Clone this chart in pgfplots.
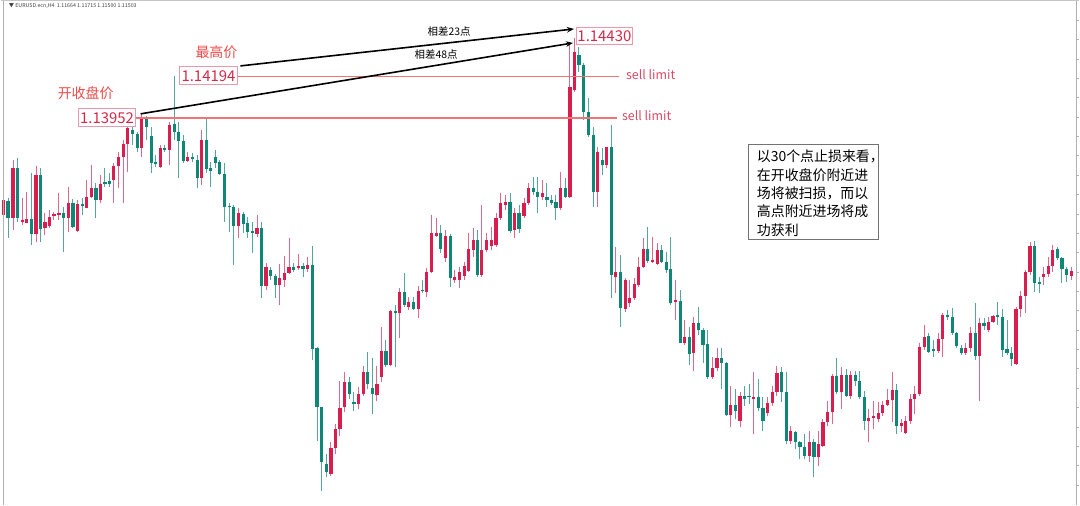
\documentclass[border=0pt]{standalone}
\usepackage{pgfplots}
\pgfplotsset{compat=1.18}
\usepackage{pgfplotstable}
\usepackage{fontspec}
\setmainfont{Noto Sans CJK SC}
\usetikzlibrary{arrows.meta}
\definecolor{up}{HTML}{D91E4F}
\definecolor{dn}{HTML}{0E8678}
\definecolor{upw}{HTML}{E0688A}
\definecolor{dnw}{HTML}{52A89D}
\definecolor{lim}{HTML}{F07474}
\definecolor{lab}{HTML}{D42A4A}
\definecolor{labbox}{HTML}{E89AAA}
\definecolor{cn}{HTML}{F04A4A}
% candles in screen pixels: x, open, high, low, close (y grows downwards)
\pgfplotstableread{
x o h l c
2.7 215 180 227 200
7.3 201 198 238 218
12.3 218 160 230 168
16.7 168 158 222 218
21.7 222 198 225 220
26.0 223 192 223 219
30.7 219 173 245 234
35.3 234 166 242 175
39.7 175 168 242 229
44.3 228 213 235 222
49.0 226 210 228 217
53.3 216 212 220 214
58.3 215 193 220 213
62.7 213 207 252 218
67.7 218 187 232 203
72.3 203 199 228 227
77.0 231 200 232 204
81.7 204 198 215 206
86.0 208 180 208 197
90.7 197 165 198 188
95.3 188 183 218 200
99.7 200 175 203 184
104.3 182 168 187 184
108.7 181 173 187 184
113.3 180 163 203 166
118.0 166 152 188 157
122.7 157 140 203 144
127.3 144 110 172 128
132.0 130 127 145 134
136.7 134 132 152 148
141.3 148 114 157 118
146.0 118 116 140 127
150.7 136 127 173 163
155.3 162 155 167 164
160.0 167 145 168 148
164.3 148 145 152 150
169.0 150 122 165 125
173.7 124 76 140 132
178.3 132 122 178 141
183.0 141 135 163 161
187.3 161 152 162 157
192.0 157 153 162 159
196.7 160 155 188 178
201.0 178 130 185 140
205.7 140 118 173 169
210.3 168 162 187 171
215.0 157 150 168 163
219.3 162 160 175 174
224.0 174 163 222 207
228.7 206 203 232 207.5
233.3 207 205 265 226
238.0 226 208 238 213
242.7 214 212 233 224
247.3 223 217 238 232
252.0 231 222 253 233
256.7 234 215 237 228
261.0 228 222 298 286
265.7 286 263 290 267
270.3 270 267 280 276
275.0 276 274 298 285
279.3 285 264 305 278
284.0 280 256 287 273
288.7 273 238 274 267
293.3 267 263 272 270
298.0 268 254 270 266
302.7 266 263 277 269
307.3 269 257 272 265
312.0 265 246 360 349
316.7 348 347 442 408
321.3 408 408 492 463
326.0 465 455 478 473
330.7 475 443 477 449
335.0 449 425 455 430
339.7 430 382 437 409
344.3 408 373 413 383
349.0 383 378 400 395
353.7 403 393 412 405
358.3 405 388 410 395
363.0 395 367 397 373
367.3 373 352 390 385
372.0 389 358 415 395
376.7 396 367 402 385
381.0 378 327 383 351
385.7 351 340 368 365
390.3 365 310 367 311
395.0 311 305 368 313
399.3 313 288 338 292
404.0 292 273 307 305
408.7 307 297 310 302
413.3 302 297 310 309
418.3 309 286 318 291
422.5 290 280 293 291.5
426.7 292 268 297 272
431.7 272 215 273 233
436.0 236 218 237 233
440.7 233 225 253 249
445.7 258 230 262 236
450.0 236 234 287 278
454.5 280 270 283 277
459.3 280 267 288 272
464.0 276 262 280 266
468.3 271 233 272 249
473.3 250 228 257 240
477.3 240 230 277 275
481.7 275 205 277 250
486.7 250 233 252 240
491.7 246 227 250 240
496.0 245 213 247 218
500.7 218 193 220 203
505.3 205 195 210 202
510.0 202 193 233 231
514.7 230 208 238 213
519.0 213 205 233 229
524.0 216 198 218 203
528.7 203 183 205 188
533.3 188 177 195 192
537.7 192 177 213 197
542.3 197 180 200 193
547.0 197 183 207 200
551.7 200 195 205 203
556.0 202 195 220 208
560.7 208 172 210 188
565.3 188 178 198 197
570.0 197 45 198 87
574.3 90 38 92 52
579.0 55 47 72 65
583.3 65 63 120 112
588.3 112 98 137 135
593.3 135 127 207 192
597.7 192 147 207 152
602.3 160 148 175 165
606.7 165 147 168 147
611.7 147 125 298 275
616.0 277 247 293 272
620.7 272 255 327 308
625.3 309 278 312 280
629.3 303 280 307 298
634.3 298 278 300 284
639.0 285 257 287 267
643.3 267 238 268 249
648.0 249 227 263 261
652.7 262 237 263 260
657.3 264 243 265 250
662.0 250 245 263 262
666.7 262 252 273 270
671.0 269 237 305 303
675.7 302 280 320 300.5
680.3 301 290 343 343
685.0 343 320 345 337
689.7 337 327 365 354
694.0 353 317 372 323
698.7 323 307 335 330
703.3 330 328 363 345
708.0 344 330 380 378
712.7 378 357 380 369
717.3 369 348 372 358
722.0 358 348 390 363
726.7 363 362 417 416
731.0 416 387 428 406
735.7 406 390 420 412
740.3 422 393 428 397
745.0 397 387 407 400
749.3 397 385 405 398
754.0 400 373 435 398
758.7 398 380 412 409
763.3 409 398 432 422
768.0 414 398 417 404
772.7 404 387 407 393
777.3 393 367 397 374
782.0 373 368 403 393
786.7 393 373 445 442
791.0 442 427 445 432
795.7 433 432 450 443
800.3 443 442 460 448
805.0 448 435 460 457
809.7 457 432 463 443
814.3 443 440 478 458
819.0 458 432 467 445
823.3 447 420 448 423
828.0 423 402 427 413
832.7 413 375 425 377
837.3 377 358 395 393
842.0 393 368 410 376
846.7 376 370 398 397
851.3 397 372 400 376
855.7 376 372 387 382
860.3 382 372 400 398
865.0 398 392 431 422
869.3 422 410 443 419
874.0 419 402 430 417
878.7 420 403 423 414
883.3 414 402 417 406
888.0 406 390 407 401
892.7 401 373 423 391
897.3 391 385 435 427
901.7 427 420 433 424
906.0 434 417 435 422
910.7 422 395 425 400
915.3 400 387 415 395
920.0 395 343 397 347
924.7 347 325 350 337
929.3 336 333 353 352
934.0 349 340 357 351
938.7 351 333 353 339
943.3 339 313 357 315
948.0 315 310 320 317
952.7 317 308 335 333
957.3 333 332 348 346
961.7 348 345 355 353
966.3 353 343 355 348
971.0 348 327 352 333
975.7 333 303 360 356
980.0 356 318 402 323
984.7 323 318 330 326
989.0 330 317 332 322
993.7 322 315 323 316
998.3 315 302 325 317
1003.0 317 309 357 350
1007.7 349 320 355 353
1012.3 353 347 367 359
1016.7 364 307 365 309
1021.3 309 291 317 296
1026.0 296 270 313 272
1030.7 272 242 275 246
1035.3 246 241 292 283
1040.0 282 277 293 284
1044.3 277 267 285 274
1049.0 274 257 277 266
1053.3 266 245 272 250
1058.0 249 247 260 258
1062.7 258 257 283 269
1067.3 269 267 282 275
1072.0 276 267 280 271
}\candles
\begin{document}
\begin{tikzpicture}
\begin{axis}[width=1080bp,height=506bp,scale only axis,
  xmin=0,xmax=1080,ymin=0,ymax=506,y dir=reverse,hide axis,clip=false,
  every axis plot/.append style={line cap=butt}]
\fill[white] (axis cs:0,0) rectangle (axis cs:1080,506);
% wicks
\addplot[dnw, line width=1bp, quiver={u=0,v=\thisrow{h}-\thisrow{l}},
  x filter/.expression={\thisrow{c}>=\thisrow{o} ? x : nan}] table[x=x,y=l]{\candles};
\addplot[upw, line width=1bp, quiver={u=0,v=\thisrow{h}-\thisrow{l}},
  x filter/.expression={\thisrow{c}<\thisrow{o} ? x : nan}] table[x=x,y=l]{\candles};
% bodies
\addplot[dn, line width=3.2bp, quiver={u=0,v=\thisrow{c}-\thisrow{o}},
  x filter/.expression={\thisrow{c}>=\thisrow{o} ? x : nan}] table[x=x,y=o]{\candles};
\addplot[up, line width=3.2bp, quiver={u=0,v=\thisrow{c}-\thisrow{o}},
  x filter/.expression={\thisrow{c}<\thisrow{o} ? x : nan}] table[x=x,y=o]{\candles};
% frame
\draw[gray!45, line width=1.5bp] (axis cs:0,0.75) -- (axis cs:1080,0.75);
\draw[gray!60, line width=1bp] (axis cs:2.5,1.5) -- (axis cs:2.5,506);
\draw[gray!60, line width=0.8bp] (axis cs:1076.8,1.5) -- (axis cs:1076.8,506);
\pgfplotsinvokeforeach{0,...,24}{\draw[gray!60, line width=0.8bp] (axis cs:1076.8,{20.2+19.4*#1}) -- (axis cs:1080,{20.2+19.4*#1});}
\node[anchor=west, font=\fontsize{5.3}{6}\selectfont, text=black!75, inner sep=0] at (axis cs:8,6.5) {▼ EURUSD.ecn,H4\ \ 1.11664 1.11715 1.11500 1.11503};
% sell limit lines
\draw[lim, line width=1.6bp] (axis cs:237,76.5) -- (axis cs:619,76.5);
\draw[lim, line width=1.6bp] (axis cs:135,118) -- (axis cs:617,118);
\node[anchor=west, text=lab!85, font=\fontsize{12.5}{14}\selectfont, inner sep=0] at (axis cs:626,74.5) {sell limit};
\node[anchor=west, text=lab!85, font=\fontsize{12.5}{14}\selectfont, inner sep=0] at (axis cs:622,115.5) {sell limit};
% price labels
\node[draw=labbox, line width=0.9bp, fill=white, text=lab, font=\fontsize{15}{16}\selectfont,
  minimum width=57bp, minimum height=18bp, inner sep=0] at (axis cs:106.5,118) {1.13952};
\node[draw=labbox, line width=0.9bp, fill=white, text=lab, font=\fontsize{15}{16}\selectfont,
  minimum width=58bp, minimum height=18bp, inner sep=0] at (axis cs:208,76) {1.14194};
\node[draw=labbox, line width=0.9bp, fill=white, text=lab, font=\fontsize{15}{16}\selectfont,
  minimum width=57bp, minimum height=18bp, inner sep=0] at (axis cs:604.5,36) {1.14430};
\node[text=cn, font=\fontsize{14}{16}\selectfont, inner sep=0] at (axis cs:85,93) {开收盘价};
\node[text=cn, font=\fontsize{14}{16}\selectfont, inner sep=0] at (axis cs:216,52) {最高价};
% arrows
\draw[black, line width=1.6bp, -{Stealth[length=7bp,width=5.5bp]}] (axis cs:240,66) -- (axis cs:574,29);
\draw[black, line width=1.6bp, -{Stealth[length=7bp,width=5.5bp]}] (axis cs:140,114) -- (axis cs:573,43);
\node[font=\fontsize{10.5}{12}\selectfont, inner sep=0] at (axis cs:449,31.5) {相差23点};
\node[font=\fontsize{10.5}{12}\selectfont, inner sep=0] at (axis cs:436,55) {相差48点};
% note box
\draw[black!55, line width=0.9bp, fill=white] (axis cs:748.5,145) rectangle (axis cs:879,240);
\node[anchor=north west, align=left, inner sep=0, font=\fontsize{14}{18.5}\selectfont] at (axis cs:757,150) {以30个点止损来看，\\在开收盘价附近进\\场将被扫损，而以\\高点附近进场将成\\功获利};
\end{axis}
\end{tikzpicture}
\end{document}
